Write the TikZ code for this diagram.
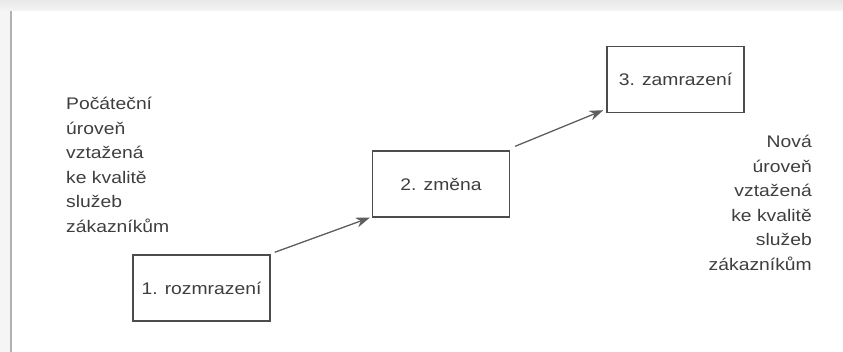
\documentclass[tikz,border=0pt]{standalone}
\usepackage{fontspec}
\setmainfont[FakeStretch=1.15]{Liberation Sans}
\usetikzlibrary{arrows.meta}
\definecolor{inkgray}{HTML}{3E3E3E}
\definecolor{boxgray}{HTML}{4C4C4C}
\definecolor{arrowgray}{HTML}{5E5E5E}
\begin{document}
\begin{tikzpicture}[x=1pt,y=1pt,
  stepbox/.style={draw=boxgray, line width=1.4pt, minimum width=137pt, minimum height=66pt,
    inner sep=0pt, text=inkgray, font=\fontsize{16.8}{24.6}\selectfont},
  sidetext/.style={inner sep=0pt, text=inkgray, font=\fontsize{16.8}{24.6}\selectfont},
  flow/.style={draw=arrowgray, line width=1.3pt, -{Stealth[length=14pt, width=10pt]}}]
\useasboundingbox (0,0) rectangle (843,352);
% page edge: light band on top, grey rule on the left
\shade[top color=black!9, bottom color=black!4] (0,341) rectangle (843,352);
\fill[black!4] (0,0) rectangle (10,341);
\draw[black!30, line width=2pt] (11,0) -- (11,341);
% the three stages
\node[stepbox] (b1) at (201.5,64) {1. rozmrazení};
\node[stepbox] (b2) at (441,168) {2. změna};
\node[stepbox] (b3) at (675.5,272.5) {3. zamrazení};
% transitions
\draw[flow] ([shift={(4pt,2pt)}]b1.north east) -- ([shift={(-2pt,0pt)}]b2.south west);
\draw[flow] ([shift={(5pt,4pt)}]b2.north east) -- ([shift={(-3pt,3pt)}]b3.south west);
% initial and new level
\node[sidetext, align=left, anchor=north west] (left) at (66,255)
  {Počáteční\\úroveň\\vztažená\\ke kvalitě\\služeb\\zákazníkům};
\node[sidetext, align=right, anchor=north east] (right) at (812,217)
  {Nová\\úroveň\\vztažená\\ke kvalitě\\služeb\\zákazníkům};
\end{tikzpicture}
\end{document}
